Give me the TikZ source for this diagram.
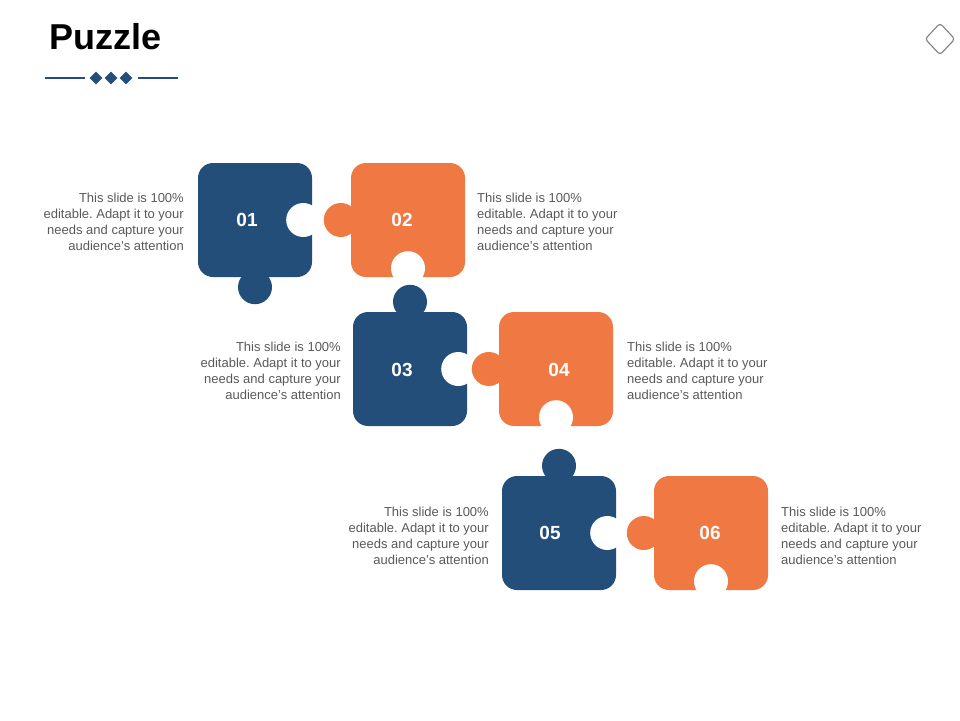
\documentclass[tikz,border=0pt]{standalone}
\usepackage{fontspec}
\setmainfont{Liberation Sans}
\usetikzlibrary{shapes.geometric}
\definecolor{navy}{HTML}{244E7A}
\definecolor{tangerine}{HTML}{F07842}
\definecolor{bodygray}{HTML}{595959}
\newcommand{\editable}{This slide is 100\%\\ editable.\ Adapt it to your\\ needs and capture your\\ audience's attention}
\tikzset{
  piece/.style={rounded corners=15pt, minimum width=114pt, minimum height=114pt, inner sep=0pt},
  num/.style={text=white, inner sep=0pt, font=\fontsize{19}{19}\selectfont\bfseries},
  blurb/.style={text=bodygray, inner sep=0pt, font=\fontsize{13}{16}\selectfont},
}
\begin{document}
\begin{tikzpicture}[x=1pt, y=-1pt]
    \useasboundingbox (0,0) rectangle (960,720);
    % title and ornament
    \node [anchor=west, inner sep=0pt, font=\fontsize{36}{36}\selectfont\bfseries] (title) at (49,37) {Puzzle};
    \draw [navy, line width=1.2pt] (45,78) -- (85,78);
    \draw [navy, line width=1.2pt] (138,78) -- (178,78);
    \foreach \x in {96,111,126}
      \node [diamond, fill=navy, minimum size=13pt, inner sep=0pt] at (\x,78) {};
    \node [diamond, draw=gray, line width=1.1pt, rounded corners=3pt, minimum width=30pt, minimum height=32pt, inner sep=0pt] (icon) at (940,39) {};
    % pieces
    \node [piece, fill=navy] (p1) at (255,220) {};
    \node [piece, fill=tangerine] (p2) at (408,220) {};
    \node [piece, fill=navy] (p3) at (410,369) {};
    \node [piece, fill=tangerine] (p4) at (556,369) {};
    \node [piece, fill=navy] (p5) at (559,533) {};
    \node [piece, fill=tangerine] (p6) at (711,533) {};
    % knobs and notches
    \fill [navy] ([yshift=-10pt]p1.south) circle (17pt);
    \fill [white] ([xshift=-9pt]p1.east) circle (17pt);
    \fill [tangerine] ([xshift=-10pt]p2.west) circle (17pt);
    \fill [white] ([yshift=9pt]p2.south) circle (17pt);
    \fill [navy] ([yshift=10pt]p3.north) circle (17pt);
    \fill [white] ([xshift=-9pt]p3.east) circle (17pt);
    \fill [tangerine] ([xshift=-10pt]p4.west) circle (17pt);
    \fill [white] ([yshift=9pt]p4.south) circle (17pt);
    \fill [navy] ([yshift=10pt]p5.north) circle (17pt);
    \fill [white] ([xshift=-9pt]p5.east) circle (17pt);
    \fill [tangerine] ([xshift=-10pt]p6.west) circle (17pt);
    \fill [white] ([yshift=9pt]p6.south) circle (17pt);
    % numbers
    \node [num] (n1) at (247,220) {01};
    \node [num] (n2) at (402,220) {02};
    \node [num] (n3) at (402,370) {03};
    \node [num] (n4) at (559,370) {04};
    \node [num] (n5) at (550,533) {05};
    \node [num] (n6) at (710,533) {06};
    % texts
    \node [blurb, anchor=east, align=right] (t1) at (184,222) {\editable};
    \node [blurb, anchor=west, align=left] (t2) at (477,222) {\editable};
    \node [blurb, anchor=east, align=right] (t3) at (341,371) {\editable};
    \node [blurb, anchor=west, align=left] (t4) at (627,371) {\editable};
    \node [blurb, anchor=east, align=right] (t5) at (489,536) {\editable};
    \node [blurb, anchor=west, align=left] (t6) at (781,536) {\editable};
\end{tikzpicture}
\end{document}
